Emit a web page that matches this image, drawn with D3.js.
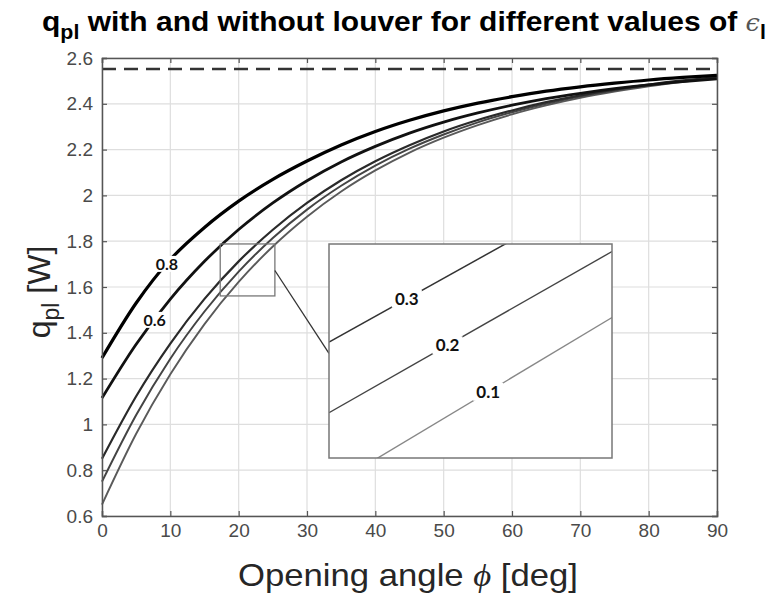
<!DOCTYPE html>
<html><head><meta charset="utf-8">
<script src="https://cdn.jsdelivr.net/npm/d3@7/dist/d3.min.js"></script>
<style>
html,body{margin:0;padding:0;background:#fff;}
svg{display:block;}
</style></head>
<body>
<svg id="chart" width="773" height="595"></svg>
<script>
// ---------------- data ----------------
const phi = [0,5,10,15,20,25,30,35,40,45,50,55,60,65,70,75,80,85,90];
const epsLabels = ["0.8","0.6","0.3","0.2","0.1"];
const q08 = [1.290,1.530,1.720,1.860,1.975,2.070,2.150,2.220,2.279,2.328,2.369,2.403,2.431,2.455,2.474,2.490,2.504,2.515,2.524];
const q06 = [1.115,1.350,1.547,1.712,1.851,1.967,2.064,2.146,2.214,2.272,2.320,2.360,2.394,2.423,2.446,2.466,2.483,2.497,2.509];
const q03 = [0.850,1.123,1.353,1.548,1.712,1.850,1.967,2.066,2.149,2.219,2.279,2.329,2.371,2.407,2.437,2.462,2.484,2.502,2.517];
const q02 = [0.750,1.041,1.287,1.493,1.667,1.814,1.938,2.042,2.130,2.204,2.266,2.319,2.363,2.400,2.432,2.458,2.481,2.499,2.515];
const q01 = [0.650,0.959,1.219,1.438,1.622,1.777,1.907,2.017,2.109,2.187,2.252,2.307,2.354,2.393,2.426,2.453,2.476,2.496,2.512];
const qNoLouver = 2.552;               // dashed line (without louver)
const xTicks = [0,10,20,30,40,50,60,70,80,90];
const yTicks = [0.6,0.8,1,1.2,1.4,1.6,1.8,2,2.2,2.4,2.6];
const mainLabelPhi = [9.5, 7.7];       // positions of "0.8", "0.6"
// zoom region (main-axes coordinates)
const zoomPhi = [17.3, 25.3];
const zoomQ = [1.561, 1.788];
const connectorQ = 1.672;
// inset (magnified) values at the inset's phi limits
const insetPhi = [17.3, 25.3];
const inset03 = [1.684, 1.851];
const inset02 = [1.609, 1.780];
const inset01 = [1.530, 1.710];
const insetLabels = ["0.3","0.2","0.1"];
const insetLabelPhi = [19.5, 20.65, 21.8];

// ---------------- layout ----------------
const W = 773, H = 595;
const m = {left:102, right:56, top:58, bottom:79};
const pw = W - m.left - m.right, ph = H - m.top - m.bottom;
const svg = d3.select("#chart");
const g = svg.append("g").attr("transform", `translate(${m.left},${m.top})`);

const x = d3.scaleLinear().domain([0,90]).range([0,pw]);
const y = d3.scaleLinear().domain([0.6,2.6]).range([ph,0]);

// grid
g.append("g").selectAll("line").data(xTicks).join("line")
  .attr("x1",d=>x(d)).attr("x2",d=>x(d)).attr("y1",0).attr("y2",ph)
  .attr("stroke","#dedede").attr("stroke-width",1.2);
g.append("g").selectAll("line").data(yTicks).join("line")
  .attr("y1",d=>y(d)).attr("y2",d=>y(d)).attr("x1",0).attr("x2",pw)
  .attr("stroke","#dedede").attr("stroke-width",1.2);

// dashed line
g.append("line").attr("x1",x(0)).attr("x2",x(90))
  .attr("y1",y(qNoLouver)).attr("y2",y(qNoLouver))
  .attr("stroke","#333").attr("stroke-width",2.6).attr("stroke-dasharray","14,8");

// curves
const series = [
  {k:"0.1", v:q01, c:"#5a5a5a", w:1.9},
  {k:"0.2", v:q02, c:"#444", w:2.0},
  {k:"0.3", v:q03, c:"#2a2a2a", w:2.2},
  {k:"0.6", v:q06, c:"#111", w:2.8},
  {k:"0.8", v:q08, c:"#000", w:3.2}
];
const line = d3.line().x((d,i)=>x(phi[i])).y(d=>y(d)).curve(d3.curveMonotoneX);
g.append("g").selectAll("path").data(series).join("path")
  .attr("d",d=>line(d.v)).attr("fill","none")
  .attr("stroke",d=>d.c).attr("stroke-width",d=>d.w);

// main labels
function interp(arrX, arrY, xv){
  return d3.scaleLinear().domain(arrX).range(arrY)(xv);
}
const mainLab = [{t:epsLabels[0], p:mainLabelPhi[0], v:q08},{t:epsLabels[1], p:mainLabelPhi[1], v:q06}];
mainLab.forEach(d=>{
  const lx = x(d.p), ly = y(interp(phi, d.v, d.p));
  const gg = g.append("g").attr("transform",`translate(${lx},${ly})`);
  gg.append("rect").attr("x",-14).attr("y",-8).attr("width",28).attr("height",16).attr("fill","#fff");
  gg.append("text").attr("text-anchor","middle").attr("dy","0.36em")
    .attr("font-family","Lato, 'Open Sans', sans-serif").attr("font-weight","bold")
    .attr("font-size",16).attr("fill","#111").text(d.t);
});

// zoom box
g.append("rect").attr("x",x(zoomPhi[0])).attr("y",y(zoomQ[1]))
  .attr("width",x(zoomPhi[1])-x(zoomPhi[0])).attr("height",y(zoomQ[0])-y(zoomQ[1]))
  .attr("fill","none").attr("stroke","#777").attr("stroke-width",1.3);

// inset axes
const inset = {left:329-m.left, top:244-m.top, w:283, h:214};
const xi = d3.scaleLinear().domain(insetPhi).range([0,inset.w]);
const yi = d3.scaleLinear().domain(zoomQ).range([inset.h,0]);

// connector line
g.append("line").attr("x1",x(zoomPhi[1])).attr("y1",y(connectorQ))
  .attr("x2",inset.left).attr("y2",inset.top+yi(connectorQ))
  .attr("stroke","#333").attr("stroke-width",1.3);

const ig = g.append("g").attr("transform",`translate(${inset.left},${inset.top})`);
svg.append("defs").append("clipPath").attr("id","iclip").append("rect")
  .attr("width",inset.w).attr("height",inset.h);
ig.append("rect").attr("width",inset.w).attr("height",inset.h).attr("fill","#fff");
const iSeries = [
  {k:insetLabels[0], v:inset03, c:"#333", w:1.5, lp:insetLabelPhi[0]},
  {k:insetLabels[1], v:inset02, c:"#444", w:1.4, lp:insetLabelPhi[1]},
  {k:insetLabels[2], v:inset01, c:"#888", w:1.4, lp:insetLabelPhi[2]}
];
const iline = d3.line().x((d,i)=>xi(insetPhi[i])).y(d=>yi(d));
const icl = ig.append("g").attr("clip-path","url(#iclip)");
icl.selectAll("path").data(iSeries).join("path")
  .attr("d",d=>iline(d.v)).attr("fill","none")
  .attr("stroke",d=>d.c).attr("stroke-width",d=>d.w);
iSeries.forEach(d=>{
  const lx = xi(d.lp), ly = yi(interp(insetPhi, d.v, d.lp));
  const gg = ig.append("g").attr("transform",`translate(${lx},${ly})`);
  gg.append("rect").attr("x",-15).attr("y",-9).attr("width",30).attr("height",18).attr("fill","#fff");
  gg.append("text").attr("text-anchor","middle").attr("dy","0.36em")
    .attr("font-family","Lato, 'Open Sans', sans-serif").attr("font-weight","bold")
    .attr("font-size",17).attr("fill","#111").text(d.k);
});
ig.append("rect").attr("width",inset.w).attr("height",inset.h)
  .attr("fill","none").attr("stroke","#777").attr("stroke-width",1.5);

// axes
const fmt = d3.format("~g");
const axL = g.append("g").call(d3.axisLeft(y).tickValues(yTicks).tickFormat(fmt).tickSize(-5).tickPadding(9));
const axB = g.append("g").attr("transform",`translate(0,${ph})`)
  .call(d3.axisBottom(x).tickValues(xTicks).tickFormat(fmt).tickSize(-5).tickPadding(8));
const axR = g.append("g").attr("transform",`translate(${pw},0)`)
  .call(d3.axisRight(y).tickValues(yTicks).tickFormat("").tickSize(-5));
const axT = g.append("g")
  .call(d3.axisTop(x).tickValues(xTicks).tickFormat("").tickSize(-5));
[axL,axB,axR,axT].forEach(a=>{
  a.selectAll("path.domain").attr("stroke","#555").attr("stroke-width",1.5);
  a.selectAll(".tick line").attr("stroke","#555").attr("stroke-width",1.2);
  a.selectAll("text").attr("font-family","'Liberation Sans', Arial, sans-serif")
    .attr("font-size",19).attr("fill","#4a4a4a");
});

// title
const title = svg.append("text").attr("x",42).attr("y",31)
  .attr("font-family","'Liberation Sans', Arial, sans-serif").attr("font-weight","bold")
  .attr("font-size",28).attr("fill","#000")
  .attr("textLength",724).attr("lengthAdjust","spacingAndGlyphs");
title.append("tspan").text("q");
title.append("tspan").attr("dy",8).attr("font-size",20).text("pl");
title.append("tspan").attr("dy",-8).text(" with and without louver for different values of ");
title.append("tspan").attr("font-family","'DejaVu Serif', serif").attr("font-style","italic")
  .attr("font-weight","normal").attr("fill","#555").attr("font-size",24).text("ϵ");
title.append("tspan").attr("dy",8).attr("font-size",20).text("l");

// x label
svg.append("text").attr("x",(238+578)/2).attr("y",586).attr("text-anchor","middle")
  .attr("font-family","'Liberation Sans', Arial, sans-serif").attr("font-size",32)
  .attr("fill","#262626").attr("textLength",340).attr("lengthAdjust","spacingAndGlyphs")
  .call(t=>{
    t.append("tspan").text("Opening angle ");
    t.append("tspan").attr("font-family","'Liberation Serif', serif").attr("font-style","italic").text("ϕ");
    t.append("tspan").text(" [deg]");
  });

// y label
svg.append("text").attr("transform","translate(50,292) rotate(-90)").attr("text-anchor","middle")
  .attr("font-family","'Liberation Sans', Arial, sans-serif").attr("font-size",32)
  .attr("fill","#262626")
  .call(t=>{
    t.append("tspan").text("q");
    t.append("tspan").attr("dy",9).attr("font-size",23).text("pl");
    t.append("tspan").attr("dy",-9).text(" [W]");
  });
</script>
</body></html>
